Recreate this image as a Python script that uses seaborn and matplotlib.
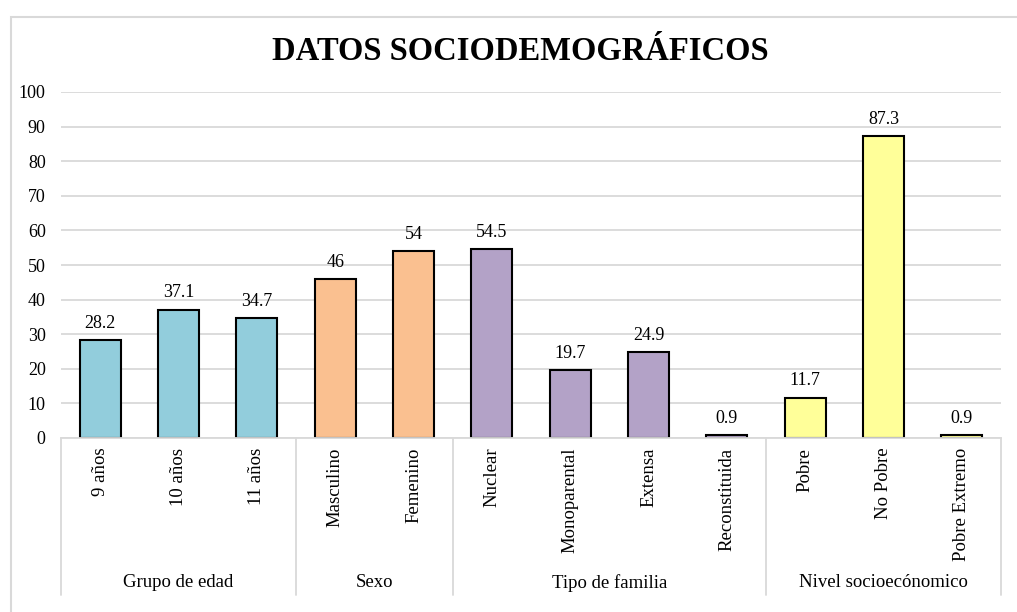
#!/usr/bin/env python3

import pandas as pd
import seaborn as sns
import matplotlib.pyplot as plt
from matplotlib.patches import Rectangle
from matplotlib.transforms import blended_transform_factory

# chart data
groups = ['Grupo de edad', 'Sexo', 'Tipo de familia', 'Nivel socioecónomico']
categories = [
    ['9 años', '10 años', '11 años'],
    ['Masculino', 'Femenino'],
    ['Nuclear', 'Monoparental', 'Extensa', 'Reconstituida'],
    ['Pobre', 'No Pobre', 'Pobre Extremo'],
]
values = [
    [28.2, 37.1, 34.7],
    [46, 54],
    [54.5, 19.7, 24.9, 0.9],
    [11.7, 87.3, 0.9],
]
colors = ['#92CDDC', '#FAC090', '#B3A2C7', '#FFFF99']
labels_txt = [
    ['28.2', '37.1', '34.7'],
    ['46', '54'],
    ['54.5', '19.7', '24.9', '0.9'],
    ['11.7', '87.3', '0.9'],
]

rows = []
for g, cats, vals in zip(groups, categories, values):
    for c, v in zip(cats, vals):
        rows.append([g, c, v])
data = pd.DataFrame(rows, columns=['grupo', 'categoria', 'valor'])

sns.set_style("white")
plt.rcParams['font.family'] = ['Liberation Serif', 'DejaVu Serif']
plt.rcParams['text.color'] = 'black'
plt.rcParams['xtick.color'] = 'black'
plt.rcParams['ytick.color'] = 'black'

fig = plt.figure(figsize=(10.17, 6.12), dpi=100)
ax = fig.add_axes([61 / 1017, 1 - 438 / 612, 940 / 1017, 346 / 612])

sns.barplot(
    data=data,
    x='categoria',
    y='valor',
    hue='grupo',
    palette=colors,
    saturation=1,
    dodge=False,
    width=0.52,
    edgecolor='black',
    linewidth=1.5,
    legend=False,
    ax=ax)

ax.set_ylim(0, 100)
ax.set_xlim(-0.5, len(data) - 0.5)
ax.set_yticks(range(0, 101, 10))
ax.yaxis.grid(True, color='#D9D9D9', linewidth=1.3)
ax.set_axisbelow(True)
for s in ['left', 'right', 'top']:
    ax.spines[s].set_visible(False)
ax.spines['bottom'].set_color('#D9D9D9')
ax.spines['bottom'].set_linewidth(1.3)
ax.set_xlabel('')
ax.set_ylabel('')
ax.tick_params(axis='y', length=0, pad=11, labelsize=13)
ax.tick_params(axis='x', length=0, pad=7, labelsize=13.5)
plt.setp(ax.get_xticklabels(), rotation=90)

# value labels
flat_labels = [t for grp in labels_txt for t in grp]
for i, (v, t) in enumerate(zip(data['valor'], flat_labels)):
    ax.annotate(t, (i, v), xytext=(0, 6), textcoords='offset points',
                ha='center', va='bottom', fontsize=13)

# group separators and group names
trans = blended_transform_factory(ax.transData, ax.transAxes)
pos = -0.5
bounds = [pos]
for cats in categories:
    pos += len(cats)
    bounds.append(pos)
for b in bounds:
    ax.plot([b, b], [0, -0.454], transform=trans, color='#D9D9D9',
            linewidth=1.3, clip_on=False)
for g, a, b in zip(groups, bounds[:-1], bounds[1:]):
    ax.text((a + b) / 2, -0.419, g, transform=trans, ha='center',
            va='center', fontsize=13.5)

fig.text(0.512, 1 - 51 / 612, 'DATOS SOCIODEMOGRÁFICOS', ha='center',
         va='center', fontsize=23.5, fontweight='bold')

# outer chart border
fig.patches.append(Rectangle((11 / 1017, -0.1), 1.2, 1 - 17 / 612 + 0.1,
                             transform=fig.transFigure, fill=False,
                             edgecolor='#D9D9D9', linewidth=1.5))

plt.savefig('out.png', format='png')
